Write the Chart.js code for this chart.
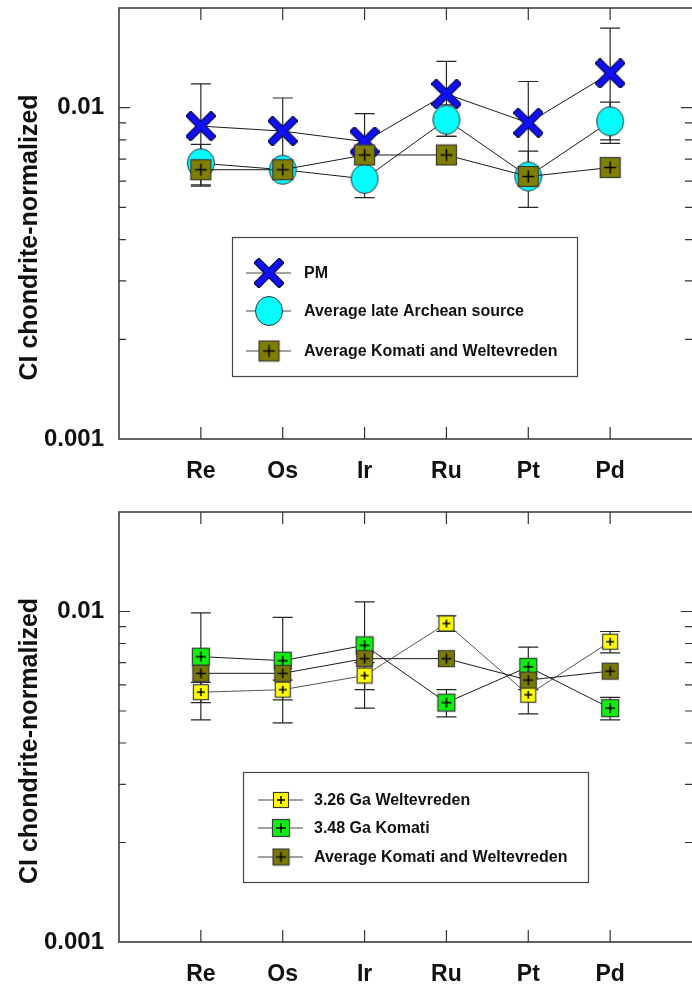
<!DOCTYPE html>
<html>
<head>
<meta charset="utf-8">
<script src="https://cdn.jsdelivr.net/npm/chart.js@4.4.0/dist/chart.umd.min.js"></script>
<style>
  body { margin: 0; background: #fff; width: 692px; height: 998px; overflow: hidden; }
  .panel { position: absolute; left: 0; width: 692px; }
  #p1 { top: 0; height: 500px; }
  #p2 { top: 500px; height: 498px; }
</style>
</head>
<body>
<div class="panel" id="p1"><canvas id="c1" width="692" height="500"></canvas></div>
<div class="panel" id="p2"><canvas id="c2" width="692" height="498"></canvas></div>
<script>
// data
var elements = ['Re', 'Os', 'Ir', 'Ru', 'Pt', 'Pd'];
var yTicks = [0.001, 0.01];
var yTickLabels = ['0.001', '0.01'];

// top panel
var pm = [0.0088, 0.0085, 0.0079, 0.0110, 0.0090, 0.0127];
var pmErr = [0.0030, 0.0022, 0.0017, 0.0028, 0.0030, 0.0047];
var lateArchean = [0.0068, 0.0065, 0.0061, 0.0092, 0.0062, 0.0091];
var lateArcheanErr = [0.00095, 0.0003, 0.00075, 0.0010, 0.0012, 0.0013];
var avgKW = [0.0065, 0.0065, 0.0072, 0.0072, 0.0062, 0.0066];

// bottom panel
var welt = [0.0057, 0.0058, 0.0064, 0.0092, 0.0056, 0.0081];
var weltErr = [0.0004, 0.0004, 0.0006, 0.0005, 0.0007, 0.0006];
var komati = [0.0073, 0.0071, 0.0079, 0.0053, 0.0068, 0.0051];
var komatiErr = [0.0026, 0.0025, 0.0028, 0.0005, 0.0010, 0.0004];

var FONT = "'Liberation Sans', Arial, sans-serif";

// marker sprites
function sprite(w, h, draw) {
  var c = document.createElement('canvas');
  c.width = w; c.height = h;
  draw(c.getContext('2d'), w, h);
  return c;
}
var xMark = sprite(30, 30, function (g) {
  g.lineCap = 'butt';
  g.strokeStyle = '#0a0a50'; g.lineWidth = 8;
  g.beginPath(); g.moveTo(2, 2); g.lineTo(28, 28); g.moveTo(28, 2); g.lineTo(2, 28); g.stroke();
  g.strokeStyle = '#1010f4'; g.lineWidth = 5.5;
  g.beginPath(); g.moveTo(3, 3); g.lineTo(27, 27); g.moveTo(27, 3); g.lineTo(3, 27); g.stroke();
});
var circleMark = sprite(30, 32, function (g) {
  g.fillStyle = '#00ffff'; g.strokeStyle = '#333'; g.lineWidth = 1;
  g.beginPath(); g.ellipse(15, 16, 13.5, 14.5, 0, 0, Math.PI * 2); g.fill(); g.stroke();
});
function squareMark(size, color) {
  return sprite(size + 2, size + 2, function (g) {
    g.fillStyle = color; g.fillRect(1, 1, size, size);
    g.strokeStyle = '#3a3a3a'; g.lineWidth = 1.2; g.strokeRect(1.5, 1.5, size - 1, size - 1);
    var c = (size + 2) / 2, a = Math.round(size * 0.28);
    g.strokeStyle = '#000'; g.lineWidth = 1.5;
    g.beginPath(); g.moveTo(c - a, c); g.lineTo(c + a, c); g.moveTo(c, c - a); g.lineTo(c, c + a); g.stroke();
  });
}
var oliveBig = squareMark(21, '#7f7f00');
var oliveSmall = squareMark(17, '#7a7a00');
var yellowMark = squareMark(16, '#ffff00');
var greenMark = squareMark(18, '#10f010');

function pts(arr) { return arr.map(function (v, i) { return { x: i + 1, y: v }; }); }

function series(label, vals, errs, mark, order, lineColor) {
  return {
    label: label, data: pts(vals), errs: errs, mark: mark,
    showLine: true, borderColor: lineColor || '#1a1a1a', borderWidth: 1,
    pointStyle: mark, pointRadius: 10, order: order
  };
}

// error bars, frame, inward ticks, y title, legend
var panelPlugin = {
  id: 'panel',
  beforeDatasetsDraw: function (chart) {
    var g = chart.ctx, xs = chart.scales.x, ys = chart.scales.y;
    g.save();
    g.strokeStyle = '#262626'; g.lineWidth = 1.2;
    chart.data.datasets.forEach(function (ds) {
      if (!ds.errs) return;
      ds.data.forEach(function (p, i) {
        var e = ds.errs[i];
        if (!e) return;
        var x = xs.getPixelForValue(p.x);
        var y1 = ys.getPixelForValue(p.y + e), y2 = ys.getPixelForValue(p.y - e);
        g.beginPath();
        g.moveTo(x, y1); g.lineTo(x, y2);
        g.moveTo(x - 10, y1); g.lineTo(x + 10, y1);
        g.moveTo(x - 10, y2); g.lineTo(x + 10, y2);
        g.stroke();
      });
    });
    g.restore();
  },
  afterDraw: function (chart) {
    var g = chart.ctx, a = chart.chartArea, xs = chart.scales.x, ys = chart.scales.y;
    var o = chart.options.plugins.panel;
    g.save();
    g.strokeStyle = '#333'; g.lineWidth = 1.5;
    g.beginPath();
    g.moveTo(a.right + 2, a.top); g.lineTo(a.left, a.top); g.lineTo(a.left, a.bottom); g.lineTo(a.right + 2, a.bottom);
    g.stroke();
    g.lineWidth = 1.2;
    g.beginPath();
    elements.forEach(function (e, i) {
      var x = xs.getPixelForValue(i + 1);
      g.moveTo(x, a.top); g.lineTo(x, a.top + 12);
      g.moveTo(x, a.bottom); g.lineTo(x, a.bottom - 12);
    });
    for (var d = 0.001; d < 0.02; d *= 10) {
      for (var k = 1; k < 10; k++) {
        var v = d * k;
        if (v <= 0.001 || v >= 0.02) continue;
        var y = ys.getPixelForValue(v), len = k === 1 ? 11 : 7;
        g.moveTo(a.left, y); g.lineTo(a.left + len, y);
        g.moveTo(a.right, y); g.lineTo(a.right - len, y);
      }
    }
    g.stroke();

    // y title
    g.fillStyle = '#111';
    g.font = 'bold 25px ' + FONT;
    g.textAlign = 'center'; g.textBaseline = 'middle';
    g.translate(30, (a.top + a.bottom) / 2 + 14);
    g.rotate(-Math.PI / 2);
    g.fillText('CI chondrite-normalized', 0, 0);
    g.restore();

    // legend
    var L = o.legend;
    g.save();
    g.fillStyle = '#fff'; g.fillRect(L.x, L.y, L.w, L.h);
    g.strokeStyle = '#444'; g.lineWidth = 1.2; g.strokeRect(L.x + 0.5, L.y + 0.5, L.w, L.h);
    g.font = 'bold 16px ' + FONT; g.textBaseline = 'middle'; g.textAlign = 'left';
    L.rows.forEach(function (r, i) {
      var ds = chart.data.datasets[r];
      var y = L.rowY[i];
      g.strokeStyle = '#444'; g.lineWidth = 1.2;
      g.beginPath(); g.moveTo(L.lineX[0], y); g.lineTo(L.lineX[1], y); g.stroke();
      var m = ds.mark;
      g.drawImage(m, L.markX - m.width / 2, y - m.height / 2);
      g.fillStyle = '#111';
      g.fillText(ds.label, L.textX, y + 1);
    });
    g.restore();
  }
};

function makeChart(id, datasets, padTop, axisH, legend) {
  return new Chart(document.getElementById(id), {
    type: 'scatter',
    data: { datasets: datasets },
    plugins: [panelPlugin],
    options: {
      responsive: false,
      animation: false,
      layout: { autoPadding: false, padding: { top: padTop, left: 0, right: 0, bottom: 0 } },
      plugins: { legend: { display: false }, tooltip: { enabled: false }, panel: { legend: legend } },
      scales: {
        x: {
          type: 'linear', min: 0, max: 7,
          grid: { display: false, drawTicks: false }, border: { display: false },
          afterBuildTicks: function (s) { s.ticks = elements.map(function (e, i) { return { value: i + 1 }; }); },
          afterFit: function (s) { s.height = axisH; s.paddingLeft = 0; s.paddingRight = 0; },
          ticks: {
            callback: function (v, i) { return elements[i]; },
            font: { family: FONT, size: 23, weight: 'bold' }, color: '#111',
            padding: 19, autoSkip: false, maxRotation: 0
          }
        },
        y: {
          type: 'logarithmic', min: 0.001, max: 0.02,
          grid: { display: false, drawTicks: false }, border: { display: false },
          afterBuildTicks: function (s) { s.ticks = yTicks.map(function (v) { return { value: v }; }); },
          afterFit: function (s) { s.width = 119; s.paddingTop = 0; s.paddingBottom = 0; },
          ticks: {
            callback: function (v, i) { return yTickLabels[i]; },
            font: { family: FONT, size: 24, weight: 'bold' }, color: '#111',
            padding: 15
          }
        }
      }
    }
  });
}

makeChart('c1', [
  series('PM', pm, pmErr, xMark, 3),
  series('Average late Archean source', lateArchean, lateArcheanErr, circleMark, 2),
  series('Average Komati and Weltevreden', avgKW, null, oliveBig, 1)
], 8, 61, { x: 232, y: 237, w: 345, h: 139, rowY: [273, 311, 351], lineX: [246, 291], markX: 269, textX: 304, rows: [0, 1, 2] });

makeChart('c2', [
  series('3.26 Ga Weltevreden', welt, weltErr, yellowMark, 3, '#555'),
  series('3.48 Ga Komati', komati, komatiErr, greenMark, 2),
  series('Average Komati and Weltevreden', avgKW, null, oliveSmall, 1)
], 12, 56, { x: 243, y: 272, w: 345, h: 110, rowY: [300, 328, 357], lineX: [258, 303], markX: 281, textX: 314, rows: [0, 1, 2] });
</script>
</body>
</html>
